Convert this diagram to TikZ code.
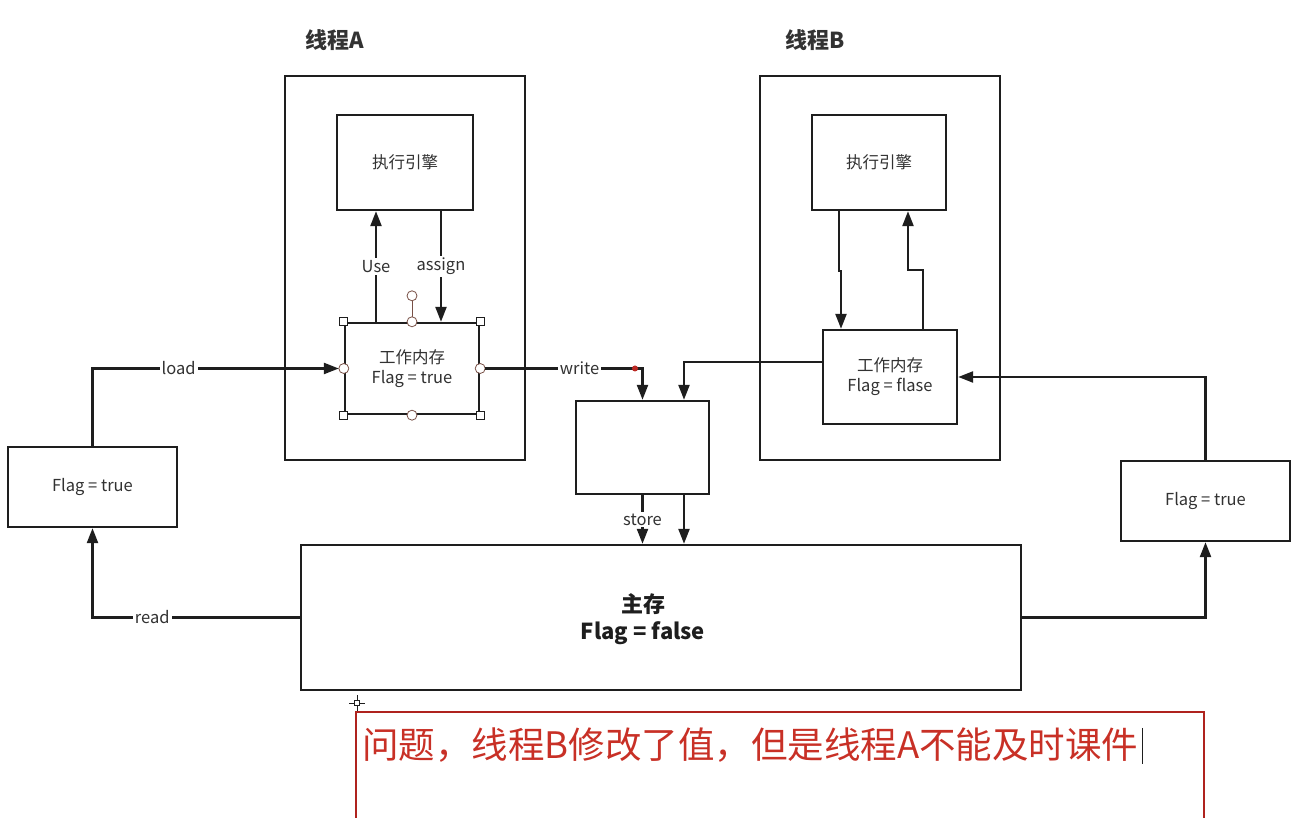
\documentclass[tikz,border=0pt]{standalone}
\usepackage{fontspec}
\setmainfont{Noto Sans CJK SC}
\usetikzlibrary{arrows.meta, positioning, calc}

\definecolor{linec}{RGB}{30,30,30}
\definecolor{txtc}{RGB}{50,50,50}
\definecolor{notered}{RGB}{200,48,38}
\definecolor{noteframe}{RGB}{175,35,30}
\definecolor{handlec}{RGB}{120,80,70}

\tikzset{
  box/.style={draw=linec, line width=2.4pt, fill=white, text=txtc, align=center,
    font=\fontsize{16.5}{20}\selectfont},
  conn/.style={draw=linec, line width=2.4pt},
  arr/.style={conn, -{Triangle[length=15pt,width=11pt]}},
  lbl/.style={fill=white, text=txtc, inner sep=2pt, font=\fontsize{16.5}{19}\selectfont},
  title/.style={text=txtc, font=\fontsize{22}{25}\selectfont\bfseries},
  sqhandle/.style={draw=linec, fill=white, line width=0.8pt, minimum size=8pt, inner sep=0pt},
  cirhandle/.style={circle, draw=handlec, fill=white, line width=0.8pt, minimum size=10pt, inner sep=0pt}
}

\begin{document}
\begin{tikzpicture}[x=1pt, y=1pt]
    \useasboundingbox (0,0) rectangle (1299,818);

    % 1. Thread A
    \node[title] (titA) at (335,778) {线程A};
    \node[box, minimum width=240, minimum height=384] (thrA) at (405,550) {};
    \node[box, minimum width=136, minimum height=95] (engA) at (405,655.5) {执行引擎};
    \node[box, minimum width=134, minimum height=91] (wmA) at (412,449.5) {工作内存\\Flag = true};

    % 2. Thread B
    \node[title] (titB) at (815,778) {线程B};
    \node[box, minimum width=240, minimum height=384] (thrB) at (880,550) {};
    \node[box, minimum width=134, minimum height=95] (engB) at (879,655.5) {执行引擎};
    \node[box, minimum width=134, minimum height=94] (wmB) at (890,441) {工作内存\\Flag = flase};

    % 3. Middle box, main memory, flags
    \node[box, minimum width=133, minimum height=93] (mid) at (642.5,370.5) {};
    \node[box, minimum width=720, minimum height=145] (mainmem) at (661,200.5) {};
    \node[align=center, text=linec, font=\fontsize{22}{27}\selectfont\bfseries] (mainTxt) at (643,199) {主存\\Flag = false};
    \node[box, minimum width=169, minimum height=80] (flagL) at (92.5,331) {Flag = true};
    \node[box, minimum width=169, minimum height=80] (flagR) at (1205.5,317) {Flag = true};

    % 4. Connectors inside thread A
    \draw[arr] ([xshift=-36]wmA.north) -- ([xshift=-29]engA.south)
      node[lbl, pos=0.5] {Use};
    \draw[arr] ([xshift=36]engA.south) -- ([xshift=29]wmA.north)
      node[lbl, pos=0.5] {assign};

    % selection handles on work memory A
    \coordinate (rotA) at ($(wmA.north)+(0,26)$);
    \draw[handlec, line width=0.8pt] (wmA.north) -- (rotA);
    \node[cirhandle] (hrot) at (rotA) {};
    \foreach \anc in {north west, north east, south west, south east}
      \node[sqhandle] at (wmA.\anc) {};
    \foreach \anc in {north, south, east, west}
      \node[cirhandle] at (wmA.\anc) {};

    % 5. Connectors inside thread B
    \draw[arr] ([xshift=-40]engB.south) -- ++(0,-60) -- ++(2,0) -- ([xshift=-49]wmB.north);
    \draw[arr] ([xshift=33]wmB.north) -- ++(0,59) -- ++(-15,0) -- ([xshift=29]engB.south);

    % 6. load / read
    \draw[arr] (flagL.north) |- ([xshift=-5]wmA.west) node[lbl, pos=0.675] {load};
    \draw[arr] (mainmem.west) -| (flagL.south) node[lbl, pos=0.356] {read};

    % 7. write / store
    \draw[arr] ([xshift=5]wmA.east) -| (mid.north) node[lbl, pos=0.3] {write};
    \fill[red!50!handlec] (635,449.5) circle (3pt);
    \draw[arr] ([yshift=15]wmB.west) -| ([xshift=41.5]mid.north);
    \draw[arr] (mid.south) -- (mid.south |- mainmem.north) node[lbl, pos=0.5] {store};
    \draw[arr] ([xshift=41.5]mid.south) -- ([xshift=41.5]mid.south |- mainmem.north);

    % 8. right side
    \draw[arr] (mainmem.east) -| (flagR.south);
    \draw[arr] (flagR.north) |- (wmB.east);

    % 9. Note
    \draw[noteframe, line width=2.4pt] (356,-20) -- (356,106) -- (1204,106) -- (1204,-20);
    \node[anchor=west, text=notered, inner sep=0pt, font=\fontsize{36.5}{40}\selectfont] (note) at (362,73)
      {问题，线程B修改了值，但是线程A不能及时课件};
    \draw[linec, line width=1.2pt] ([xshift=4]note.east |- 0,90) -- ([xshift=4]note.east |- 0,54);
    % cursor
    \draw[linec, line width=0.8pt] (349,115) -- (365,115) (357,107) -- (357,123);
    \node[draw=linec, fill=white, line width=0.8pt, minimum size=5pt, inner sep=0pt] (cur) at (357,115) {};

\end{tikzpicture}
\end{document}
